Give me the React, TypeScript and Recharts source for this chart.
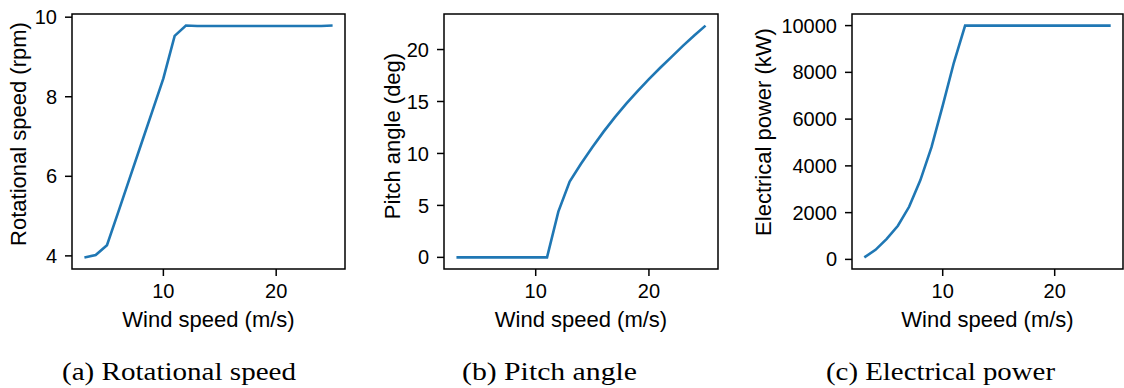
import React from 'react';
import { LineChart, Line, XAxis, YAxis, ReferenceArea } from 'recharts';

// wind speed bins (m/s)
const windSpeed = [3, 4, 5, 6, 7, 8, 9, 10, 11, 12, 13, 14, 15, 16, 17, 18, 19, 20, 21, 22, 23, 24, 25];

const rotSpeed = [3.96, 4.02, 4.27, 5.1, 5.94, 6.78, 7.62, 8.46, 9.53, 9.79, 9.78, 9.78, 9.78, 9.78, 9.78, 9.78, 9.78, 9.78, 9.78, 9.78, 9.78, 9.78, 9.79];
const pitchAngle = [0, 0, 0, 0, 0, 0, 0, 0, 0, 4.4, 7.3, 9.0, 10.6, 12.1, 13.5, 14.8, 16.0, 17.15, 18.25, 19.3, 20.35, 21.35, 22.3];
const elecPower = [85, 410, 880, 1440, 2250, 3380, 4800, 6580, 8420, 10000, 10000, 10000, 10000, 10000, 10000, 10000, 10000, 10000, 10000, 10000, 10000, 10000, 10000];

const windTicks = [10, 20];
const rotTicks = [4, 6, 8, 10];
const pitchTicks = [0, 5, 10, 15, 20];
const powerTicks = [0, 2000, 4000, 6000, 8000, 10000];

const captions = ['(a) Rotational speed', '(b) Pitch angle', '(c) Electrical power'];

const data = windSpeed.map((w, i) => ({
    wind: w,
    rot: rotSpeed[i],
    pitch: pitchAngle[i],
    power: elecPower[i],
}));

const SANS = '"Liberation Sans", Arial, Helvetica, sans-serif';
const SERIF = '"Liberation Serif", "Times New Roman", serif';
const BLUE = '#1f77b4';
const X_DOMAIN: [number, number] = [1.9, 26.1];

// rotated y label at a fixed spot (matplotlib puts it a bit above the axes centre here)
const YLabel = ({ cx, cy, text }: { cx: number; cy: number; text: string }) => (
    <text
        x={cx}
        y={cy}
        transform={`rotate(-90 ${cx} ${cy})`}
        textAnchor="middle"
        dominantBaseline="central"
        fill="#000"
        fontSize={22}
        fontFamily={SANS}
    >
        {text}
    </text>
);

interface PanelProps {
    left: number;
    width: number;
    yWidth: number;
    marginRight: number;
    dataKey: string;
    yDomain: [number, number];
    yTicks: number[];
    yLabel: string;
    yLabelX: number;
    yLabelY: number;
}

const Panel: React.FC<PanelProps> = ({ left, width, yWidth, marginRight, dataKey, yDomain, yTicks, yLabel, yLabelX, yLabelY }) => {
    const tickStyle = { fill: '#000', fontSize: 20, fontFamily: SANS };
    return (
        <div style={{ position: 'absolute', left, top: 0 }}>
            <LineChart width={width} height={340} data={data} margin={{ top: 14, right: marginRight, bottom: 0, left: 0 }}>
                <XAxis
                    type="number"
                    dataKey="wind"
                    domain={X_DOMAIN}
                    ticks={windTicks}
                    height={71}
                    axisLine={false}
                    tickSize={7}
                    tickMargin={8}
                    tickLine={{ stroke: '#000', strokeWidth: 1.5 }}
                    tick={tickStyle}
                    label={{ value: 'Wind speed (m/s)', position: 'insideBottom', offset: 13, style: { fill: '#000', fontSize: 22, fontFamily: SANS } }}
                />
                <YAxis
                    type="number"
                    domain={yDomain}
                    ticks={yTicks}
                    width={yWidth}
                    axisLine={false}
                    tickSize={7}
                    tickMargin={8}
                    tickLine={{ stroke: '#000', strokeWidth: 1.5 }}
                    tick={tickStyle}
                    label={<YLabel cx={yLabelX} cy={yLabelY} text={yLabel} />}
                />
                <Line type="linear" dataKey={dataKey} stroke={BLUE} strokeWidth={2.6} dot={false} isAnimationActive={false} />
                <ReferenceArea
                    x1={X_DOMAIN[0]}
                    x2={X_DOMAIN[1]}
                    y1={yDomain[0]}
                    y2={yDomain[1]}
                    fill="none"
                    fillOpacity={0}
                    stroke="#000"
                    strokeWidth={1.5}
                    ifOverflow="visible"
                />
            </LineChart>
        </div>
    );
};

const App: React.FC = () => {
    return (
        <div style={{ position: 'absolute', left: 0, top: 0, width: 1124, height: 388, background: '#fff', fontFamily: SANS, overflow: 'hidden' }}>
            <svg width={1124} height={388} style={{ position: 'absolute', left: 0, top: 0 }}>
                <text x={62} y={380} fontSize={26} fontFamily={SERIF} textLength={234} lengthAdjust="spacingAndGlyphs">{captions[0]}</text>
                <text x={462} y={380} fontSize={26} fontFamily={SERIF} textLength={175} lengthAdjust="spacingAndGlyphs">{captions[1]}</text>
                <text x={826} y={380} fontSize={26} fontFamily={SERIF} textLength={229} lengthAdjust="spacingAndGlyphs">{captions[2]}</text>
            </svg>
            <Panel left={0} width={360} yWidth={72} marginRight={15} dataKey="rot" yDomain={[3.67, 10.08]} yTicks={rotTicks} yLabel="Rotational speed (rpm)" yLabelX={18} yLabelY={134} />
            <Panel left={372} width={360} yWidth={72} marginRight={14} dataKey="pitch" yDomain={[-1.12, 23.42]} yTicks={pitchTicks} yLabel="Pitch angle (deg)" yLabelX={20} yLabelY={136} />
            <Panel left={745} width={379} yWidth={107} marginRight={1} dataKey="power" yDomain={[-411, 10496]} yTicks={powerTicks} yLabel="Electrical power (kW)" yLabelX={18} yLabelY={132} />
        </div>
    );
};

export default App;
